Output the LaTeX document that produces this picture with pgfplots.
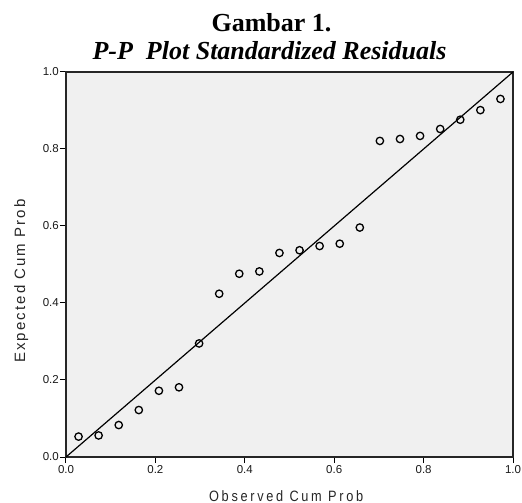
\documentclass[border=0pt]{standalone}
\usepackage{pgfplots}
\pgfplotsset{compat=1.18}
\usepackage{fontspec}
\setmainfont{Liberation Sans}
\newfontfamily\titlefont{Liberation Serif}
\newfontfamily\xlabfont[FakeStretch=0.85, LetterSpace=18]{Liberation Sans}
\newfontfamily\ylabfont[LetterSpace=14]{Liberation Sans}
\definecolor{plotbg}{HTML}{F0F0F0}

\begin{document}
\begin{tikzpicture}
% page size = reference proportions (1px = 1pt)
\useasboundingbox (-66pt,-46pt) rectangle (456pt,457pt);
\begin{axis}[
    at={(0,0)}, anchor=south west,
    scale only axis,
    width=447pt, height=385pt,
    xmin=0, xmax=1, ymin=0, ymax=1,
    xtick={0,0.2,...,1.0}, ytick={0,0.2,...,1.0},
    xtick pos=bottom, ytick pos=left,
    tick align=outside,
    major tick length=6pt,
    tick style={line width=1pt, black},
    axis line style={line width=1.5pt, black!85},
    axis background/.style={fill=plotbg},
    /pgf/number format/assume math mode=true,
    /pgf/number format/.cd, fixed, fixed zerofill, precision=1, /pgfplots/.cd,
    ticklabel style={font=\fontsize{11.5}{13}\selectfont, text=black!90},
    yticklabel style={inner sep=1pt},
    xticklabel style={inner sep=2pt},
    xlabel={\xlabfont\fontsize{15}{17}\selectfont Observed Cum Prob},
    ylabel={\ylabfont\fontsize{15}{17}\selectfont Expected Cum Prob},
    xlabel style={at={(axis description cs:0.4925,0)}, anchor=base, yshift=-44pt, text=black!85},
    ylabel style={at={(axis description cs:-0.0917,0.457)}, anchor=base, text=black!85},
    clip=false,
]
\addplot[black, line width=1.2pt] coordinates {(0,0) (1,1)};
\addplot[only marks, mark=o, mark size=3.7pt, mark options={line width=1.3pt, black}] table {
x       y
0.0281  0.053
0.0730  0.056
0.1180  0.083
0.1629  0.122
0.2079  0.172
0.2528  0.181
0.2978  0.295
0.3427  0.424
0.3876  0.476
0.4326  0.482
0.4775  0.530
0.5225  0.537
0.5674  0.548
0.6124  0.554
0.6573  0.596
0.7022  0.821
0.7472  0.826
0.7921  0.834
0.8371  0.852
0.8820  0.876
0.9270  0.901
0.9719  0.930
};
\end{axis}
\node[anchor=base] at (205.5pt,425.5pt) {\titlefont\fontsize{26}{28}\selectfont\bfseries Gambar 1.};
\node[anchor=base] at (203.5pt,397pt) {\titlefont\fontsize{26}{28}\selectfont\bfseries\itshape P-P\ \ Plot Standardized Residuals};
\end{tikzpicture}
\end{document}
